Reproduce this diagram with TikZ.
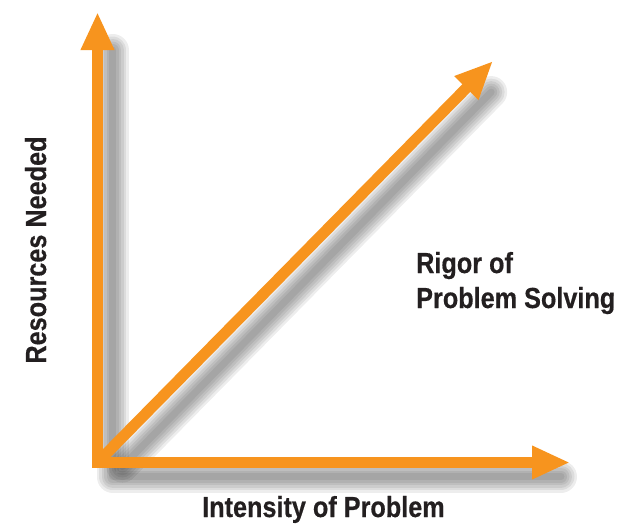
\documentclass[tikz,border=0pt]{standalone}
\usepackage{xcolor}
\usepackage{fontspec}
\setmainfont{Liberation Sans}[FakeStretch=0.87, BoldFeatures={FakeBold=0.5}]
\usepackage{tikz}
\usetikzlibrary{arrows.meta}
\definecolor{rigororange}{RGB}{247, 148, 30}
\definecolor{rigortext}{RGB}{35, 31, 32}

\begin{document}
\begin{tikzpicture}[x=1pt, y=-1pt,
  axisarrow/.style={draw=rigororange, line width=11pt, line join=miter,
    -{Triangle[length=38pt, width=31pt, fill=rigororange]}},
  axisshadow/.style={draw=black, opacity=0.07, line width=#1, line join=round, line cap=round,
    shorten >=24pt},
  axislabel/.style={text=rigortext, font=\bfseries\fontsize{29}{35}\selectfont, inner sep=0pt}]
\useasboundingbox (0,0) rectangle (629,525);
\coordinate (O) at (97.5,462.5);
\coordinate (Ytip) at (97.5,12);
\coordinate (Xtip) at (570,462.5);
\coordinate (Dtip) at (493,61);
% soft shadow
\begin{scope}[transform canvas={xshift=15pt, yshift=-14pt}]
\foreach \w in {32pt,27pt,22pt,17pt,12pt,7pt} {
  \draw[axisshadow=\w, shorten <=24pt] (Ytip) -- (O) -- (Xtip);
  \draw[axisshadow=\w, shorten <=14pt] (O) -- (Dtip);
}
\end{scope}
% arrows
\draw[axisarrow, {Triangle[length=38pt, width=31pt, fill=rigororange]}-{Triangle[length=38pt, width=31pt, fill=rigororange]}] (Ytip) -- (O) -- (Xtip);
\draw[axisarrow] (O) -- (Dtip);
% labels
\node[axislabel, rotate=90, anchor=base] (resources) at (46,250) {Resources Needed};
\node[axislabel, anchor=base west] (intensity) at (202,517) {Intensity of Problem};
\node[axislabel, anchor=base west, align=left] (rigor) at (416,308) {Rigor of\\Problem Solving};
\end{tikzpicture}
\end{document}
